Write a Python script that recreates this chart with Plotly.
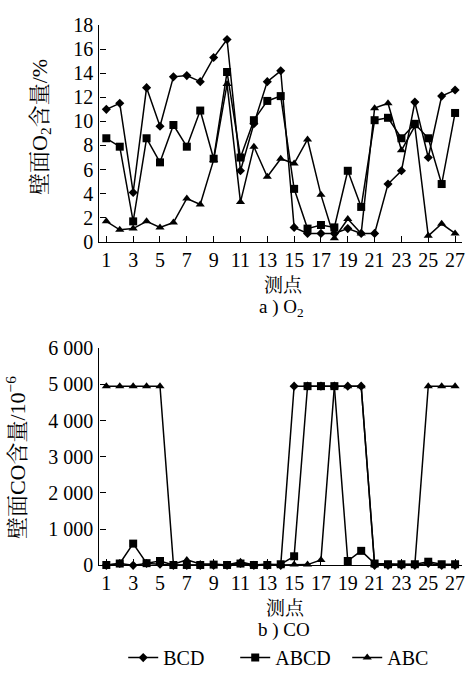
import plotly.graph_objects as go

points = list(range(1, 28))
tick_points = list(range(1, 28, 2))

series_names = ["BCD", "ABCD", "ABC"]

o2_bcd = [11.0, 11.5, 4.1, 12.8, 9.6, 13.7, 13.8, 13.3, 15.3, 16.8, 5.9, 9.8, 13.3, 14.2,
          1.2, 0.7, 0.7, 0.7, 1.1, 0.7, 0.7, 4.8, 5.9, 11.6, 7.0, 12.1, 12.6]
o2_abcd = [8.6, 7.9, 1.7, 8.6, 6.6, 9.7, 7.9, 10.9, 6.9, 14.1, 7.0, 10.1, 11.7, 12.1,
           4.4, 1.1, 1.4, 1.2, 5.9, 2.9, 10.1, 10.3, 8.6, 9.8, 8.6, 4.8, 10.7]
o2_abc = [1.7, 1.0, 1.1, 1.7, 1.2, 1.6, 3.6, 3.1, 6.8, 13.1, 3.3, 7.9, 5.4, 6.9,
          6.5, 8.5, 3.9, 0.3, 1.9, 0.7, 11.1, 11.5, 7.6, 9.6, 0.5, 1.5, 0.7]

co_bcd = [0, 50, 0, 50, 30, 0, 0, 0, 0, 0, 50, 0, 0, 0,
          4950, 4950, 4950, 4950, 4950, 4950, 0, 0, 0, 0, 50, 0, 0]
co_abcd = [10, 50, 600, 60, 120, 10, 10, 10, 20, 10, 50, 10, 10, 30,
           250, 4950, 4950, 4950, 120, 400, 50, 30, 30, 30, 100, 30, 30]
co_abc = [4950, 4950, 4950, 4950, 4950, 30, 150, 40, 40, 10, 100, 10, 40, 10,
          20, 20, 150, 4950, 4950, 4950, 20, 20, 20, 20, 4950, 4950, 4950]

o2_ticks = list(range(0, 19, 2))
co_ticks = list(range(0, 6001, 1000))
co_ticktext = ["0", "1 000", "2 000", "3 000", "4 000", "5 000", "6 000"]

FONT = "Liberation Serif, Noto Serif CJK SC, Noto Sans CJK SC, serif"
W, H = 475, 686

symbols = {"BCD": ("diamond", 7), "ABCD": ("square", 8), "ABC": ("triangle-up", 8)}
o2_data = {"BCD": o2_bcd, "ABCD": o2_abcd, "ABC": o2_abc}
co_data = {"BCD": co_bcd, "ABCD": co_abcd, "ABC": co_abc}

fig = go.Figure()
for name in series_names:
    sym, size = symbols[name]
    fig.add_trace(go.Scatter(
        x=points, y=o2_data[name], xaxis="x", yaxis="y", mode="lines+markers",
        line=dict(color="black", width=1.5),
        marker=dict(symbol=sym, size=size, color="black"),
        name=name, showlegend=False, cliponaxis=False))
for name in series_names:
    sym, size = symbols[name]
    fig.add_trace(go.Scatter(
        x=points, y=co_data[name], xaxis="x2", yaxis="y2", mode="lines+markers",
        line=dict(color="black", width=1.5),
        marker=dict(symbol=sym, size=size, color="black"),
        name=name, showlegend=True, cliponaxis=False))

xdom = [100 / W, 465 / W]
top_dom = [1 - 238.5 / H, 1 - 14.5 / H]
bot_dom = [1 - 572.7 / H, 1 - 348.3 / H]

axis_common = dict(showline=True, linecolor="black", linewidth=1.3, ticks="inside",
                   ticklen=6, tickcolor="black", tickwidth=1.2, showgrid=False,
                   zeroline=False, tickfont=dict(family=FONT, size=20, color="black"))

fig.update_layout(
    width=W, height=H, margin=dict(l=0, r=0, t=0, b=0),
    paper_bgcolor="white", plot_bgcolor="white",
    font=dict(family=FONT, size=20, color="black"),
    xaxis=dict(domain=xdom, anchor="y", range=[0.48, 27.52], tickvals=tick_points,
               ticklabelstandoff=0, **axis_common),
    yaxis=dict(domain=top_dom, anchor="x", range=[0, 18], tickvals=o2_ticks,
               ticklabelstandoff=1, **axis_common),
    xaxis2=dict(domain=xdom, anchor="y2", range=[0.48, 27.52], tickvals=tick_points,
                ticklabelstandoff=0, **axis_common),
    yaxis2=dict(domain=bot_dom, anchor="x2", range=[0, 6000], tickvals=co_ticks,
                ticktext=co_ticktext, ticklabelstandoff=1, **axis_common),
    legend=dict(orientation="h", x=124 / W, xanchor="left", y=1 - 668 / H, yanchor="middle",
                font=dict(family=FONT, size=20, color="black"), entrywidth=67,
                bgcolor="rgba(0,0,0,0)", traceorder="normal"),
    showlegend=True,
)

annos = [
    dict(text="测点", x=285 / W, y=1 - 283.5 / H, size=19),
    dict(text="a ) O<sub>2</sub>", x=283 / W, y=1 - 307 / H, size=19),
    dict(text="测点", x=287 / W, y=1 - 617 / H, size=19),
    dict(text="b ) CO", x=286 / W, y=1 - 639 / H, size=19),
]
for a in annos:
    size = a.pop("size")
    fig.add_annotation(xref="paper", yref="paper", showarrow=False,
                       xanchor="center", yanchor="middle",
                       font=dict(family=FONT, size=size, color="black"), **a)

fig.add_annotation(xref="paper", yref="paper", showarrow=False, textangle=-90,
                   text="壁面O<sub>2</sub>含量/%", x=41 / W, y=1 - 120 / H,
                   xanchor="center", yanchor="middle",
                   font=dict(family=FONT, size=22, color="black"))
fig.add_annotation(xref="paper", yref="paper", showarrow=False, textangle=-90,
                   text="壁面CO含量/10<sup>−6</sup>", x=16 / W, y=1 - 461 / H,
                   xanchor="center", yanchor="middle",
                   font=dict(family=FONT, size=22, color="black"))

fig.write_html("out.html")
